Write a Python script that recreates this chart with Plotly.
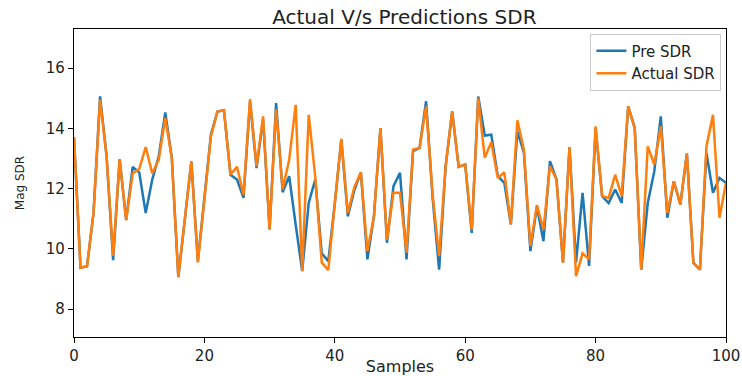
import plotly.graph_objects as go

samples = list(range(101))

pre_sdr = [13.7, 9.37, 9.42, 11.2, 15.06, 13.07, 9.62, 12.98, 10.95, 12.72,
           12.54, 11.19, 12.3, 13.07, 14.53, 13.02, 9.06, 11.0, 12.9, 9.59,
           11.7, 13.8, 14.56, 14.6, 12.46, 12.3, 11.69, 14.9, 12.68, 14.3,
           10.64, 14.84, 11.88, 12.41, 10.8, 9.26, 11.52, 12.3, 9.85, 9.59,
           11.5, 13.62, 11.08, 11.95, 12.54, 9.65, 11.08, 14.01, 10.2, 12.08,
           12.52, 9.65, 13.24, 13.35, 14.9, 11.7, 9.31, 12.74, 14.56, 12.72,
           12.8, 10.53, 15.06, 13.76, 13.79, 12.41, 12.19, 10.81, 13.9, 13.2,
           9.92, 11.4, 10.25, 12.91, 12.3, 9.54, 13.38, 9.54, 11.86, 9.43,
           14.0, 11.75, 11.52, 11.97, 11.52, 14.73, 14.01, 9.31, 11.52, 12.57,
           14.4, 11.03, 12.24, 11.47, 13.16, 9.53, 9.31, 13.18, 11.86, 12.35,
           12.19]

actual_sdr = [13.7, 9.37, 9.42, 11.2, 14.95, 13.07, 9.76, 12.98, 10.95, 12.5,
              12.65, 13.38, 12.5, 12.96, 14.34, 13.02, 9.06, 11.0, 12.9, 9.55,
              11.7, 13.73, 14.56, 14.6, 12.46, 12.72, 11.8, 14.97, 12.74, 14.4,
              10.64, 14.62, 11.97, 12.96, 14.78, 9.26, 14.45, 12.4, 9.54, 9.29,
              11.5, 13.65, 11.19, 12.05, 12.54, 9.92, 11.08, 14.01, 10.3, 11.86,
              11.86, 9.87, 13.3, 13.35, 14.73, 11.8, 9.76, 12.74, 14.56, 12.72,
              12.8, 10.64, 15.0, 13.02, 13.54, 12.35, 12.54, 10.81, 14.27, 13.29,
              10.09, 11.45, 10.64, 12.74, 12.3, 9.54, 13.38, 9.09, 9.85, 9.65,
              14.07, 11.75, 11.69, 12.46, 11.75, 14.73, 14.01, 9.31, 13.4, 12.8,
              14.07, 11.19, 12.24, 11.47, 13.16, 9.53, 9.31, 13.4, 14.45, 11.03,
              12.19]

x_ticks = [0, 20, 40, 60, 80, 100]
y_ticks = [8, 10, 12, 14, 16]

fig = go.Figure()
fig.add_trace(go.Scatter(x=samples, y=pre_sdr, mode="lines", name="Pre SDR",
                         line=dict(color="#1f77b4", width=2.5)))
fig.add_trace(go.Scatter(x=samples, y=actual_sdr, mode="lines", name="Actual SDR",
                         line=dict(color="#ff7f0e", width=2.5)))

axis_common = dict(showline=True, linecolor="black", linewidth=1.2, mirror=True,
                   ticks="outside", ticklen=5, tickcolor="black", showgrid=False,
                   zeroline=False, automargin=False,
                   tickfont=dict(size=15, color="#222"))

fig.update_layout(
    width=742, height=376,
    margin=dict(l=74, r=16, t=29, b=39),
    paper_bgcolor="white", plot_bgcolor="white",
    font=dict(family="DejaVu Sans", color="#222"),
    title=dict(text="Actual V/s Predictions SDR", x=0.545, xanchor="center",
               y=0.955, yanchor="middle", font=dict(size=20, color="#222")),
    xaxis=dict(range=[0, 100], tickvals=x_ticks,
               title=dict(text="Samples", font=dict(size=16), standoff=2), **axis_common),
    yaxis=dict(range=[7.07, 17.3], tickvals=y_ticks,
               title=dict(text="Mag SDR", font=dict(size=12), standoff=18), **axis_common),
    legend=dict(x=0.993, xanchor="right", y=0.985, yanchor="top",
                bgcolor="rgba(255,255,255,0.85)", bordercolor="#cccccc", borderwidth=1,
                font=dict(size=15, color="#222"), tracegroupgap=0),
    showlegend=True,
)

fig.write_html("out.html")
